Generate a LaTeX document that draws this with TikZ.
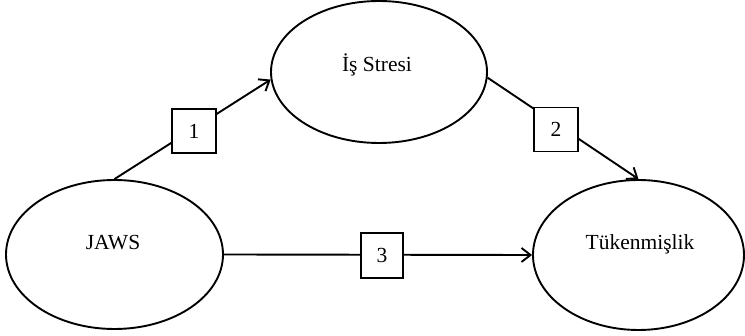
\documentclass[tikz,border=0pt]{standalone}
\usepackage{fontspec}
\setmainfont{Liberation Serif}
\usetikzlibrary{shapes.geometric,arrows.meta}
\begin{document}
\begin{tikzpicture}[x=1pt,y=-1pt,
  oval/.style={draw,ellipse,line width=1.9pt,inner sep=0pt},
  lbl/.style={anchor=base,font=\fontsize{21.5}{24}\selectfont,inner sep=0pt},
  numbox/.style={draw,fill=white,line width=1.9pt,minimum width=44pt,minimum height=44pt,inner sep=0pt,font=\fontsize{21.5}{24}\selectfont},
  link/.style={line width=1.9pt,-{Straight Barb[length=9pt,width=14pt,line width=1.9pt]}}]
\useasboundingbox (0,0) rectangle (745,336);
\node[oval,minimum width=217pt,minimum height=149pt] (jaws) at (114.5,254.5) {};
\node[oval,minimum width=216pt,minimum height=142pt] (is) at (379,72) {};
\node[oval,minimum width=211pt,minimum height=150pt] (tuk) at (638.5,255) {};
\node[lbl] (jawst) at (113,250) {JAWS};
\node[lbl] (ist) at (377,72) {İş Stresi};
\node[lbl] (tukt) at (640,250) {Tükenmişlik};
\draw[link] (jaws.north) -- (is.184);
\draw[link] (is.357) -- (tuk.north);
\draw[link] (jaws.east) -- (tuk.west);
\node[numbox] (b1) at (194,131) {1};
\node[numbox] (b2) at (556,129.5) {2};
\node[numbox,minimum width=42pt,minimum height=45pt] (b3) at (382,255.5) {3};
\end{tikzpicture}
\end{document}
